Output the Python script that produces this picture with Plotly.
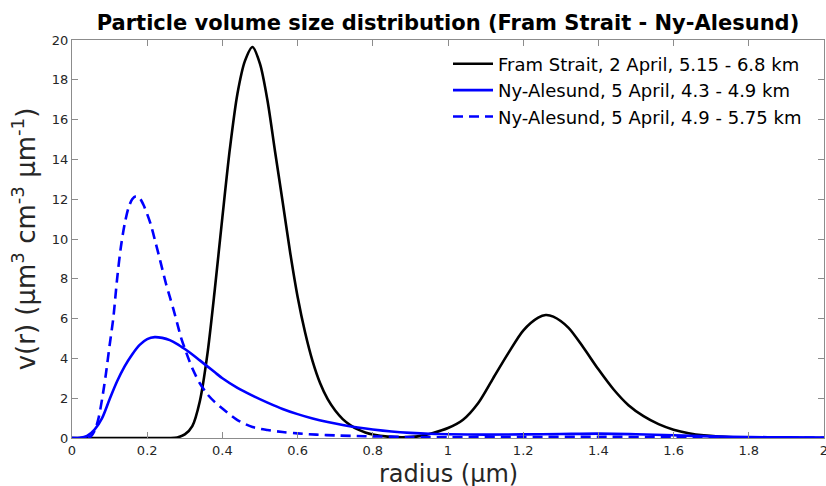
import plotly.graph_objects as go

# Fram Strait, 2 April, 5.15 - 6.8 km
fram_r = [0, 0.2, 0.26, 0.28, 0.30, 0.32, 0.34, 0.36, 0.38, 0.40, 0.42, 0.44, 0.46, 0.48,
          0.50, 0.52, 0.54, 0.56, 0.58, 0.60, 0.62, 0.64, 0.66, 0.68, 0.70, 0.72, 0.74,
          0.76, 0.78, 0.80, 0.84, 0.88, 0.92, 0.96, 1.00, 1.04, 1.08, 1.12, 1.16, 1.20,
          1.24, 1.26, 1.28, 1.32, 1.36, 1.40, 1.44, 1.48, 1.52, 1.56, 1.60, 1.64, 1.68,
          1.72, 1.76, 1.80, 1.90, 2.00]
fram_v = [0, 0, 0, 0.03, 0.18, 0.6, 1.85, 4.2, 7.5, 11.1, 14.55, 17.3, 18.95, 19.65,
          18.8, 16.95, 14.4, 11.9, 9.35, 7.1, 5.3, 3.85, 2.75, 1.95, 1.38, 0.95, 0.65,
          0.43, 0.28, 0.18, 0.07, 0.04, 0.08, 0.25, 0.5, 0.92, 1.75, 3.0, 4.25, 5.4,
          6.05, 6.18, 6.1, 5.55, 4.55, 3.45, 2.45, 1.65, 1.1, 0.7, 0.42, 0.24, 0.13,
          0.07, 0.04, 0.02, 0, 0]

# Ny-Alesund, 5 April, 4.3 - 4.9 km
ny1_r = [0, 0.02, 0.04, 0.06, 0.08, 0.10, 0.12, 0.14, 0.16, 0.18, 0.20, 0.22, 0.24, 0.26,
         0.28, 0.30, 0.32, 0.34, 0.36, 0.38, 0.40, 0.44, 0.48, 0.52, 0.56, 0.60, 0.64,
         0.68, 0.72, 0.76, 0.80, 0.85, 0.90, 0.95, 1.0, 1.1, 1.2, 1.3, 1.4, 1.5, 1.6,
         1.7, 1.8, 1.9, 2.0]
ny1_v = [0, 0.01, 0.1, 0.42, 1.0, 1.95, 2.85, 3.6, 4.2, 4.68, 4.97, 5.07, 5.03, 4.92,
         4.72, 4.47, 4.2, 3.9, 3.6, 3.3, 3.0, 2.52, 2.13, 1.78, 1.46, 1.2, 0.98,
         0.8, 0.65, 0.53, 0.43, 0.33, 0.26, 0.21, 0.19, 0.17, 0.18, 0.2, 0.22, 0.19, 0.14,
         0.08, 0.05, 0.03, 0.02]

# Ny-Alesund, 5 April, 4.9 - 5.75 km
ny2_r = [0, 0.04, 0.05, 0.06, 0.07, 0.08, 0.09, 0.10, 0.11, 0.12, 0.13, 0.14, 0.15, 0.16,
         0.17, 0.18, 0.19, 0.20, 0.21, 0.22, 0.23, 0.24, 0.25, 0.26, 0.27, 0.28, 0.29,
         0.30, 0.32, 0.34, 0.36, 0.38, 0.40, 0.44, 0.48, 0.52, 0.56, 0.60, 0.65, 0.70,
         0.78, 0.90, 1.0, 1.2, 1.4, 1.6, 1.8, 2.0]
ny2_v = [0, 0, 0.08, 0.35, 0.95, 1.95, 3.2, 4.65, 6.05, 8.0, 9.6, 10.75, 11.55, 12.0,
         12.15, 12.05, 11.72, 11.25, 10.7, 9.98, 9.25, 8.5, 7.75, 7.1, 6.45, 5.75, 5.05,
         4.5, 3.5, 2.75, 2.2, 1.8, 1.48, 0.9, 0.55, 0.4, 0.3, 0.23, 0.17, 0.13,
         0.09, 0.05, 0.04, 0.05, 0.06, 0.04, 0.02, 0.01]

x_ticks = [0, 0.2, 0.4, 0.6, 0.8, 1, 1.2, 1.4, 1.6, 1.8, 2]
x_tick_labels = ["0", "0.2", "0.4", "0.6", "0.8", "1", "1.2", "1.4", "1.6", "1.8", "2"]
y_ticks = [0, 2, 4, 6, 8, 10, 12, 14, 16, 18, 20]

FONT = "DejaVu Sans"
LINE = dict(width=2.6, shape="spline", smoothing=0.8)
fig = go.Figure()
fig.add_trace(go.Scatter(x=fram_r, y=fram_v, mode="lines", name="Fram Strait, 2 April, 5.15 - 6.8 km",
                         line=dict(color="black", **LINE)))
fig.add_trace(go.Scatter(x=ny1_r, y=ny1_v, mode="lines", name="Ny-Alesund, 5 April, 4.3 - 4.9 km",
                         line=dict(color="#0000ff", **LINE)))
fig.add_trace(go.Scatter(x=ny2_r, y=ny2_v, mode="lines", name="Ny-Alesund, 5 April, 4.9 - 5.75 km",
                         line=dict(color="#0000ff", dash="10px,6px", **LINE)))

axis_common = dict(showgrid=False, zeroline=False, showline=True, linecolor="#8c8c8c", linewidth=1,
                   mirror="ticks", ticks="inside", ticklen=6, tickcolor="#8c8c8c",
                   ticklabeloverflow="allow", automargin=False,
                   tickfont=dict(family=FONT, size=13, color="#262626"))

fig.update_layout(
    template="none",
    width=826, height=486,
    margin=dict(l=72, r=2, t=40, b=48, autoexpand=False),
    paper_bgcolor="white", plot_bgcolor="white",
    font=dict(family=FONT, color="#262626"),
    title=dict(text="<b>Particle volume size distribution (Fram Strait - Ny-Alesund)</b>",
               x=0.5, xref="paper", xanchor="center", y=1 - 22.5 / 486, yref="container",
               yanchor="middle", font=dict(family=FONT, size=21, color="black")),
    xaxis=dict(range=[0, 2], tickvals=x_ticks, ticktext=x_tick_labels, **axis_common),
    yaxis=dict(range=[0, 20], tickvals=y_ticks,
               title=dict(text="v(r) (μm<sup>3</sup> cm<sup>-3</sup> μm<sup>-1</sup>)",
                          font=dict(family=FONT, size=26, color="#262626"), standoff=8),
               **axis_common),
    legend=dict(x=0.5, y=0.9862, xanchor="left", yanchor="top", bgcolor="rgba(255,255,255,0)",
                font=dict(family=FONT, size=18, color="black"), tracegroupgap=0,
                itemwidth=40, borderwidth=0),
    annotations=[dict(text="radius (μm)", x=0.5, y=-0.0913, xref="paper", yref="paper",
                      xanchor="center", yanchor="middle", showarrow=False,
                      font=dict(family=FONT, size=24, color="#262626"))],
    showlegend=True,
)

fig.write_html("out.html")
